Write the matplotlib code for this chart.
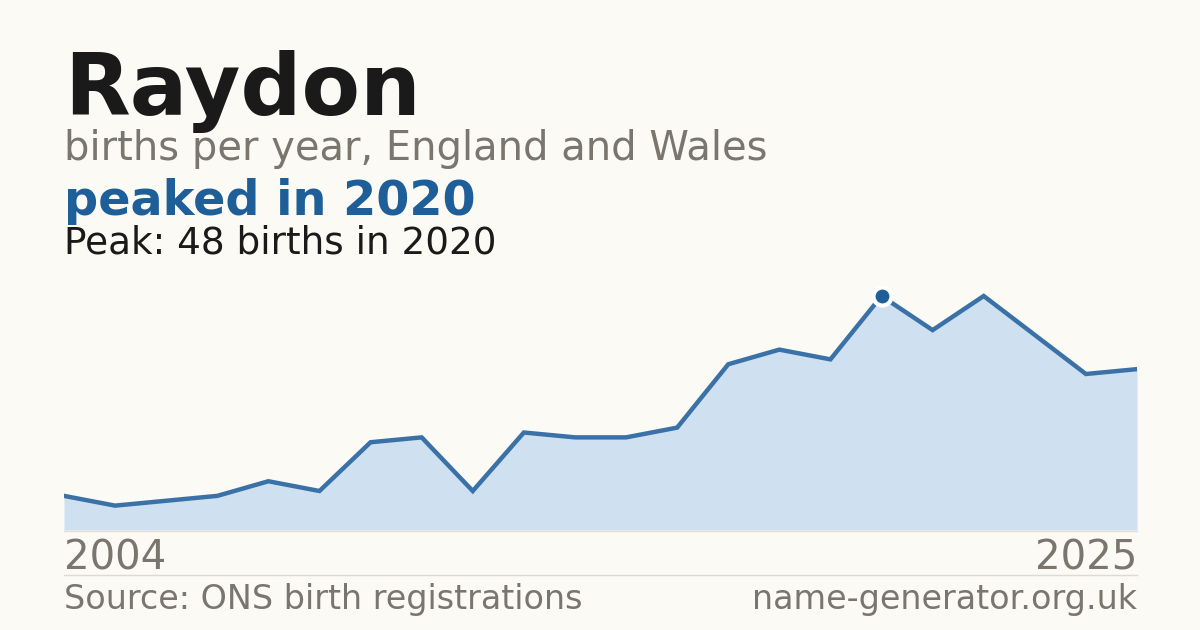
import matplotlib.pyplot as plt
import numpy as np

# births per year
years = list(range(2004, 2026))
births = [7, 5, 6, 7, 10, 8, 18, 19, 8, 20, 19, 19, 21, 34, 37, 35, 48, 41, 48, 40, 32, 33]

name = "Raydon"
subtitle = "births per year, England and Wales"
headline = "peaked in 2020"
peak_year = 2020
peak_value = 48

bg = '#fbfaf5'
blue = '#1f5f99'
grey = '#7a756d'

W, H = 1200, 630
fig = plt.figure(figsize=(W / 100, H / 100), dpi=100, facecolor=bg)

# chart area: x 64..1137 px, baseline at y=530
ax = fig.add_axes([64 / W, (H - 530) / H, (1137 - 64) / W, (50 * 4.875) / H])
ax.set_facecolor(bg)
ax.fill_between(years, births, 0, color='#cfe0f0', lw=0)
ax.plot(years, births, color='#3a72a8', lw=3.2, solid_joinstyle='miter')
ax.plot([peak_year], [peak_value], 'o', ms=13, color=blue, mec='white', mew=3, zorder=5)
ax.set_xlim(years[0], years[-1])
ax.set_ylim(0, 50)
ax.axis('off')

# baseline + separator
fig.add_artist(plt.Line2D([64 / W, 1137 / W], [(H - 530.5) / H] * 2, color='#e3ded6', lw=1))
fig.add_artist(plt.Line2D([64 / W, 1137 / W], [(H - 574.5) / H] * 2, color='#dedad2', lw=1))

def txt(x, y, s, **kw):
    fig.text(x / W, (H - y) / H, s, va='baseline', family='DejaVu Sans', **kw)

txt(64, 115, name, fontsize=61.5, weight='bold', color='#1a1a1a')
txt(64, 160, subtitle, fontsize=28.8, color=grey)
txt(64, 215, headline, fontsize=34.4, weight='bold', color=blue)
txt(64, 253, f"Peak: {peak_value} births in {peak_year}", fontsize=26.9, color='#1a1a1a')
txt(64, 570, str(years[0]), fontsize=29, color=grey)
txt(1137, 570, str(years[-1]), fontsize=29, color=grey, ha='right')
txt(64, 609, "Source: ONS birth registrations", fontsize=24, color=grey)
txt(1137, 609, "name-generator.org.uk", fontsize=24, color=grey, ha='right')

fig.savefig('out.png', dpi=100, facecolor=bg)
